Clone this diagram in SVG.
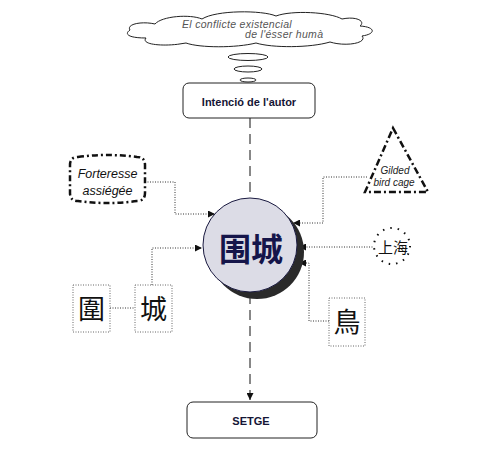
<svg xmlns="http://www.w3.org/2000/svg" width="500" height="456" viewBox="0 0 500 456">
<defs>
<style>
.lat{font-family:"Liberation Sans",Arial,sans-serif}
.cjk{font-family:"Noto Sans CJK SC","Noto Sans CJK TC",sans-serif}
.dot{fill:none;stroke:#333;stroke-width:1;stroke-dasharray:1 1.5}
.box{fill:#fff;stroke:#222;stroke-width:1}
.cbox{fill:#fff;stroke:#666;stroke-width:1;stroke-dasharray:1 1.5}
.bold{font-weight:bold;fill:#151535;font-size:11px;text-anchor:middle}
</style>
<marker id="ar" viewBox="0 0 10 10" refX="10" refY="5" markerWidth="9" markerHeight="7" markerUnits="userSpaceOnUse" orient="auto">
<path d="M0,0 L10,5 L0,10 Z" fill="#111"/>
</marker>
</defs>
<rect width="500" height="456" fill="#fff"/>

<g id="cloud">
<path d="M130,30 C126,24 142,21 155,24 C162,16 190,14 202,19 C216,10 262,10 276,16 C292,10 330,12 342,19 C356,16 366,21 360,26 C376,27 376,34 362,36 C368,43 346,47 330,42 C310,48 272,48 256,43 C236,48 200,48 186,43 C166,47 140,45 146,38 C128,38 124,34 130,30 Z" fill="#fff" stroke="#222" stroke-width="1"/>
<text class="lat" x="182" y="28" font-size="10.5" font-style="italic" fill="#555" letter-spacing="0.3">El conflicte existencial</text>
<text class="lat" x="245" y="38" font-size="10.5" font-style="italic" fill="#555" letter-spacing="0.3">de l'ésser humà</text>
<ellipse cx="248" cy="57" rx="20" ry="3.5" fill="#fff" stroke="#222" stroke-width="1"/>
<ellipse cx="248" cy="69" rx="14" ry="3" fill="#fff" stroke="#222" stroke-width="1"/>
<ellipse cx="248" cy="80" rx="8" ry="2" fill="#fff" stroke="#222" stroke-width="1"/>
</g>

<g id="connectors">
<path d="M250,118 V400" fill="none" stroke="#111" stroke-width="1" stroke-dasharray="10 6" marker-end="url(#ar)"/>
<path class="dot" d="M145,182 H175 V214 H215" marker-end="url(#ar)"/>
<path class="dot" d="M152,285 V248 H202" marker-end="url(#ar)"/>
<path class="dot" d="M110,308 H135"/>
<path class="dot" d="M367,177 H323 V223 H293" marker-end="url(#ar)"/>
<path class="dot" d="M375,247 H299" marker-end="url(#ar)"/>
<path class="dot" d="M329,321 H309 V263 H299" marker-end="url(#ar)"/>
</g>

<g id="intencio">
<rect class="box" x="183" y="83" width="132" height="35" rx="6"/>
<text class="lat bold" x="249" y="106">Intenció de l'autor</text>
</g>

<g id="setge">
<rect class="box" x="187" y="402" width="130" height="36" rx="6"/>
<text class="lat bold" x="251" y="425">SETGE</text>
</g>

<g id="weicheng">
<circle cx="257" cy="252" r="47" fill="#2a2a2a"/>
<circle cx="250" cy="245" r="47" fill="#dcdce6" stroke="#1a1a40" stroke-width="1"/>
<text class="cjk" x="251" y="261" font-size="32" font-weight="bold" fill="#15154a" text-anchor="middle">围城</text>
</g>

<g id="forteresse">
<path d="M78,157 Q107,153 137,157 Q145,157 145,165 V193 Q145,201 137,201 Q107,205 78,201 Q70,201 70,193 V165 Q70,157 78,157 Z" fill="#fff" stroke="#111" stroke-width="2.5" stroke-dasharray="6 3 2 3"/>
<text class="lat" x="107.5" y="178" font-size="12.5" font-style="italic" fill="#111" text-anchor="middle">Forteresse</text>
<text class="lat" x="107.5" y="195" font-size="12.5" font-style="italic" fill="#111" text-anchor="middle">assiégée</text>
</g>

<g id="gilded">
<path d="M393,128 L428,192 L365,192 Z" fill="#fff" stroke="#111" stroke-width="2.5" stroke-dasharray="7 3 2 3"/>
<text class="lat" x="395" y="174" font-size="10" font-style="italic" fill="#222" text-anchor="middle">Gilded</text>
<text class="lat" x="394" y="186" font-size="10" font-style="italic" fill="#222" text-anchor="middle">bird cage</text>
</g>

<g id="shanghai">
<circle cx="392" cy="246" r="18" fill="#fff" stroke="#111" stroke-width="2" stroke-dasharray="1.5 6"/>
<text class="cjk" x="393" y="253" font-size="15" fill="#111" text-anchor="middle">上海</text>
</g>

<g id="wei">
<rect class="cbox" x="73" y="285" width="37" height="47"/>
<text class="cjk" x="91.5" y="319" font-size="27" fill="#111" text-anchor="middle">圍</text>
</g>

<g id="cheng">
<rect class="cbox" x="135" y="285" width="37" height="47"/>
<text class="cjk" x="153.5" y="319" font-size="27" fill="#111" text-anchor="middle">城</text>
</g>

<g id="niao">
<rect class="cbox" x="329" y="298" width="36" height="48"/>
<text class="cjk" x="347" y="332" font-size="27" fill="#111" text-anchor="middle">鳥</text>
</g>
</svg>
